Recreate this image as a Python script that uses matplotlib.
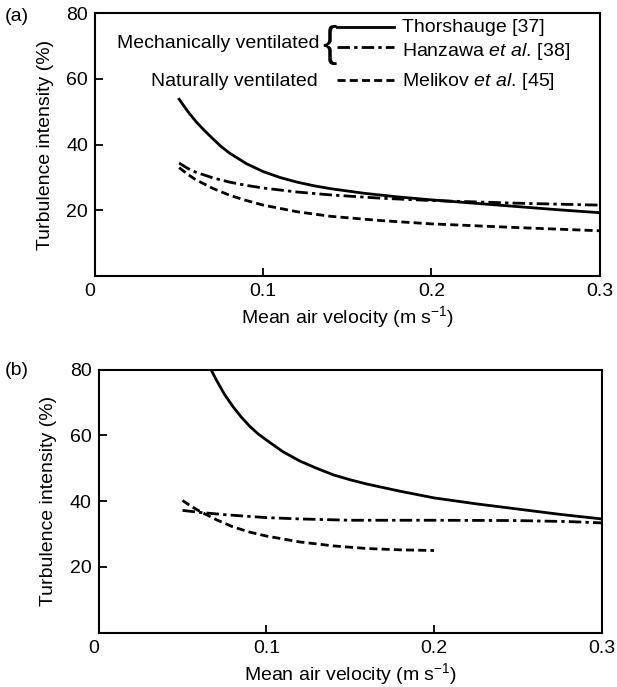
import matplotlib
matplotlib.use('Agg')
import matplotlib.pyplot as plt

plt.rcParams['font.family'] = ['Liberation Sans', 'DejaVu Sans']
plt.rcParams['mathtext.fontset'] = 'custom'
plt.rcParams['mathtext.rm'] = 'Liberation Sans'
plt.rcParams['mathtext.it'] = 'Liberation Sans:italic'

# panel (a)
xa_thor = [0.05, 0.055, 0.06, 0.065, 0.07, 0.075, 0.08, 0.09, 0.10, 0.11, 0.12, 0.13, 0.14,
           0.16, 0.18, 0.20, 0.225, 0.25, 0.275, 0.30]
ya_thor = [53.8, 50.2, 47.0, 44.3, 41.8, 39.4, 37.4, 34.2, 31.8, 30.0, 28.6, 27.5, 26.6,
           25.2, 24.1, 23.2, 22.2, 21.2, 20.2, 19.3]
xa_hanz = [0.05, 0.055, 0.06, 0.07, 0.08, 0.09, 0.10, 0.12, 0.14, 0.17, 0.20, 0.25, 0.30]
ya_hanz = [34.4, 32.8, 31.6, 29.9, 28.6, 27.6, 26.8, 25.6, 24.7, 23.7, 23.0, 22.2, 21.6]
xa_meli = [0.05, 0.055, 0.06, 0.07, 0.08, 0.09, 0.10, 0.12, 0.14, 0.17, 0.20, 0.25, 0.30]
ya_meli = [33.0, 31.0, 29.3, 26.7, 24.6, 23.0, 21.6, 19.6, 18.2, 16.9, 15.9, 14.8, 13.8]

# panel (b)
xb_thor = [0.067, 0.07, 0.075, 0.08, 0.085, 0.09, 0.095, 0.10, 0.11, 0.12, 0.13, 0.14,
           0.15, 0.16, 0.18, 0.20, 0.225, 0.25, 0.275, 0.30]
yb_thor = [80.0, 77.0, 72.5, 68.8, 65.6, 62.8, 60.5, 58.6, 55.0, 52.2, 50.0, 48.0,
           46.5, 45.2, 43.0, 41.0, 39.2, 37.6, 36.0, 34.6]
xb_hanz = [0.05, 0.06, 0.075, 0.10, 0.12, 0.15, 0.20, 0.25, 0.28, 0.30]
yb_hanz = [37.2, 36.6, 35.9, 35.0, 34.6, 34.2, 34.2, 34.1, 33.8, 33.4]
xb_meli = [0.05, 0.055, 0.06, 0.065, 0.07, 0.08, 0.09, 0.10, 0.12, 0.14, 0.16, 0.18, 0.20]
yb_meli = [40.2, 38.5, 37.0, 35.7, 34.4, 32.2, 30.6, 29.4, 27.6, 26.4, 25.6, 25.2, 25.0]

xticks = [0, 0.1, 0.2, 0.3]
xticklabels = ['0', '0.1', '0.2', '0.3']
yticks = [20, 40, 60, 80]

solid = '-'
dashdot = (0, (4.5, 1.5, 1.2, 1.5))
dashed = (0, (2.9, 1.5))
fs = 14

fig = plt.figure(figsize=(6.17, 6.87), dpi=100)
ax1 = fig.add_axes([0.154, 0.598, 0.818, 0.383])
ax2 = fig.add_axes([0.160, 0.079, 0.815, 0.383])

def style(ax):
    ax.set_xlim(0, 0.3)
    ax.set_ylim(0, 80)
    ax.set_xticks(xticks)
    ax.set_xticklabels(xticklabels)
    ax.set_yticks(yticks)
    ax.tick_params(direction='in', length=6, width=1.3, labelsize=fs, pad=5)
    ax.get_xticklabels()[0].set_ha('right')
    for s in ax.spines.values():
        s.set_linewidth(1.5)
    ax.set_xlabel('Mean air velocity (m s$^{-1}$)', fontsize=fs, labelpad=3)
    ax.set_ylabel('Turbulence intensity (%)', fontsize=fs, labelpad=9)

ax1.plot(xa_thor, ya_thor, color='k', lw=2, ls=solid)
ax1.plot(xa_hanz, ya_hanz, color='k', lw=2, ls=dashdot)
ax1.plot(xa_meli, ya_meli, color='k', lw=2, ls=dashed)
style(ax1)

ax2.plot(xb_thor, yb_thor, color='k', lw=2, ls=solid)
ax2.plot(xb_hanz, yb_hanz, color='k', lw=2, ls=dashdot)
ax2.plot(xb_meli, yb_meli, color='k', lw=2, ls=dashed)
style(ax2)

fig.text(0.008, 0.976, '(a)', fontsize=fs, va='center')
fig.text(0.008, 0.461, '(b)', fontsize=fs, va='center')

# key drawn inside panel (a)
ax1.text(0.1337, 70.8, 'Mechanically ventilated', fontsize=fs, ha='right', va='center')
ax1.text(0.1396, 70.3, '{', fontsize=31, ha='center', va='center')
ax1.text(0.1325, 59.3, 'Naturally ventilated', fontsize=fs, ha='right', va='center')
ax1.plot([0.1438, 0.1776], [75.7, 75.7], color='k', lw=2, ls=solid)
ax1.plot([0.1438, 0.1776], [69.8, 69.8], color='k', lw=2, ls=dashdot)
ax1.plot([0.1438, 0.1776], [59.6, 59.6], color='k', lw=2, ls=dashed)
ax1.text(0.1824, 75.6, 'Thorshauge [37]', fontsize=fs, va='center')
ax1.text(0.1824, 68.4, 'Hanzawa $\\it{et\\ al.}\\,$[38]', fontsize=fs, va='center')
ax1.text(0.1824, 59.3, 'Melikov $\\it{et\\ al.}\\,$[45]', fontsize=fs, va='center')

fig.savefig('out.png', dpi=100)
